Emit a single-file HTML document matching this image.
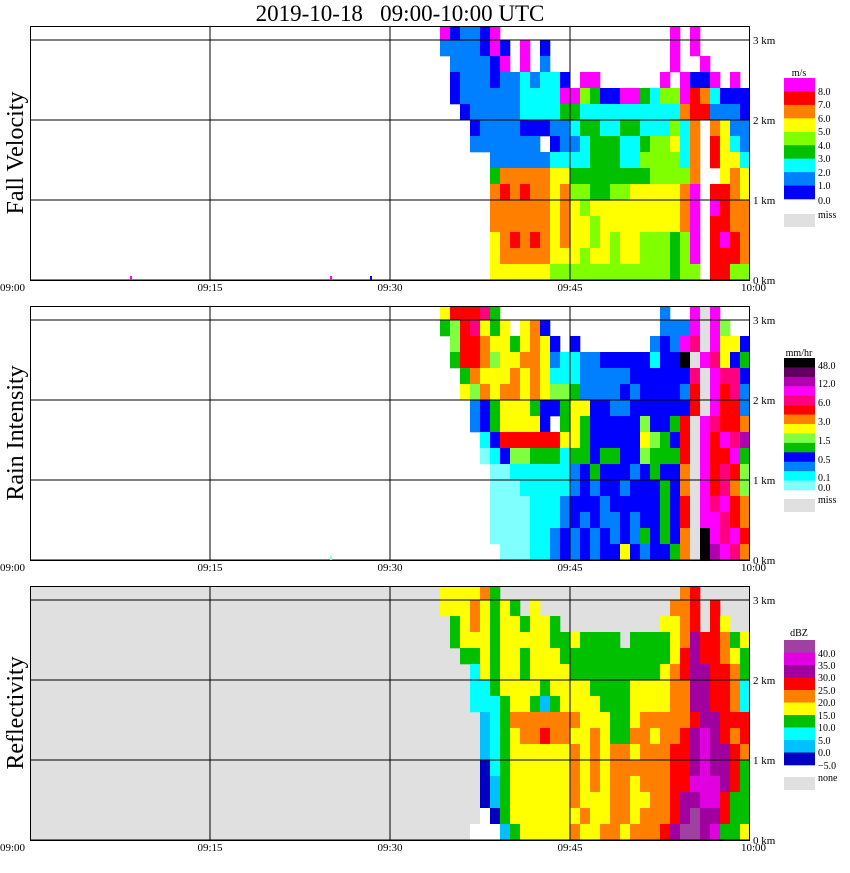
<!DOCTYPE html>
<html><head><meta charset="utf-8"><style>
body{margin:0;background:#fff;width:850px;height:868px;overflow:hidden;font-family:"Liberation Serif",serif}
svg text{font-family:"Liberation Serif",serif}
</style></head><body>
<svg id="chart" width="850" height="868" xmlns="http://www.w3.org/2000/svg">
<text x="400" y="21" font-size="23" text-anchor="middle" style="white-space:pre" xml:space="preserve">2019-10-18   09:00-10:00 UTC</text>
</svg>
<script>
// Data: each row string = height bin (top -> bottom, 0.2 km bins), each char = class for a 10/12-minute time bin starting at 09:34:10
const heightBinsKm = [3.0,2.8,2.6,2.4,2.2,2.0,1.8,1.6,1.4,1.2,1.0,0.8,0.6,0.4,0.2,0.0];
const colStartMin = 34.1667;
const colStepMin = 10/12;
const fvRows = [
"9122190000000000000000090900000",
"2222191090100000000000090900000",
"0222219090200000000000090090000",
"0122212232331099000000909119090",
"0122222233339954119943559873111",
"0012222233334433333333337882221",
"0001222211122344334433353707622",
"0002222222012234443345563708632",
"0000022222233334443355553708663",
"0000047777766444444445555700676",
"0000078787767554455666667908876",
"0000077777767656666666667909877",
"0000077777767665666666667908877",
"0000067878767665656655545908987",
"0000067777766656656655545908887",
"0000066666655555555555545508855"];
const riRows = [
"giiije0000000000000000c00kxk000",
"efijgeg0ghd00000000000ccckxkf00",
"0fiihggeghgd0d0000000cdckjxkggd",
"0eiihfgghhgcbbccdddddbddnxkjgde",
"00ehggghghgbbbcccccddddddjxkjjd",
"00gfhghhghgffeccccdcddddcixkijc",
"000cdegggeddeggddccddddddixkiic",
"000cdeggggd0egedddddfddeixkjiih",
"0000bdiiiiiiggedddddgfedixkikjl",
"0000abdffeeebeedeeddfeeeixkiike",
"00000aabbbbbbcdedddcdeddhxkijif",
"00000aaabbbbbcdcddcdddedhxkijhf",
"00000aaaabbbcdddcdddddedixkjkih",
"00000aaaabbbcdcdccdcddedixkkjih",
"00000aaaabbcdcdcdcdcededhxnkjki",
"000000aaabbcdcdcddgdcddehxnlkjh"];
const dbzRows = [
"eeeefd000000000000000000fg00000",
"eeefeded0e0000000000000ffg0g000",
"0defedeedeed0000000000eefg0ge00",
"0deeedeeeeeddedddd0ddddefhggfde",
"00ddedeedeeedddddddddddeghggfed",
"000cedeedeeeedddddddddefghhggfd",
"000ccdeeeedeeeeddddeeeeffhhggfc",
"000cccdeedbdeeeedddeeeeffhhggfc",
"0000bcdfffffffeeeddefffffghhgggg",
"0000bcdeffgffeefeddffeffghihgfg",
"0000bcdeeeeeefefeffefffgghihhgf",
"0000acdeeeeeefefeffffffgghihhgd",
"0000abdeeeeeefefeffefffggiiihgd",
"0000abdeeeeeefeeeffeeffghhiigdd",
"0000Wadeeeeeeefeeffefffghjhhgdd",
"000WWWbdeeeeefeeffefffghjjhidde"];
const xTickLabels = ["09:00","09:15","09:30","09:45","10:00"];
const xTickMin = [0,15,30,45,60];
const yTickLabels = ["0 km","1 km","2 km","3 km"];
const yTickKm = [0,1,2,3];
const fvLegendLabels = ["8.0","7.0","6.0","5.0","4.0","3.0","2.0","1.0","0.0"];
const riLegendLabels = ["48.0","12.0","6.0","3.0","1.5","0.5","0.1","0.0"];
const dbzLegendLabels = ["40.0","35.0","30.0","25.0","20.0","15.0","10.0","5.0","0.0","\u22125.0"];

const fvColors={"1":"#0000ff","2":"#0080ff","3":"#00ffff","4":"#00c000","5":"#80ff00","6":"#ffff00","7":"#ff8000","8":"#ff0000","9":"#ff00ff"};
const riColors={a:"#80ffff",b:"#00ffff",c:"#0080ff",d:"#0000ff",e:"#00c000",f:"#80ff40",g:"#ffff00",h:"#ff8000",i:"#ff0000",j:"#ff0080",k:"#ff00ff",l:"#b000b0",m:"#600060",n:"#000000",x:"#e0e0e0"};
const dbzColors={a:"#0000c0",b:"#00c0ff",c:"#00ffff",d:"#00c000",e:"#ffff00",f:"#ff8000",g:"#ff0000",h:"#a000a0",i:"#e000e0",j:"#a040a0",W:"#ffffff"};

const NS="http://www.w3.org/2000/svg";
const svg=document.getElementById('chart');
function mk(tag,attrs,parent){const e=document.createElementNS(NS,tag);for(const k in attrs)e.setAttribute(k,attrs[k]);(parent||svg).appendChild(e);return e;}
const PL=30,PR=750;
function xScale(m){return PL+m*(PR-PL)/60;}
function yScale(km,base){return base-km*80;}

const panels=[
 {rows:fvRows,colors:fvColors,base:280,top:26,name:"fall-velocity",title:"Fall Velocity",bg:"#ffffff"},
 {rows:riRows,colors:riColors,base:560,top:306,name:"rain-intensity",title:"Rain Intensity",bg:"#ffffff"},
 {rows:dbzRows,colors:dbzColors,base:840,top:586,name:"reflectivity",title:"Reflectivity",bg:"#e0e0e0"}];

panels.forEach(p=>{
  const g=mk('g',{});
  
  
  const cid='clip-'+p.name;
  const cp=mk('clipPath',{id:cid},g);
  mk('rect',{x:PL,y:p.top,width:PR-PL,height:p.base-p.top},cp);
  const bg=mk('rect',{x:PL,y:p.top,width:PR-PL,height:p.base-p.top,fill:p.bg},g);
  
  
  const cells=mk('g',{'clip-path':'url(#'+cid+')'},g);
  
  
  p.rows.forEach((row,ri)=>{
    const km=heightBinsKm[ri];
    for(let c=0;c<row.length;c++){
      const col=p.colors[row[c]];
      if(!col)continue;
      const x0=xScale(colStartMin+c*colStepMin),x1=xScale(colStartMin+(c+1)*colStepMin);
      const y0=yScale(km+0.2,p.base),y1=yScale(km,p.base);
      const r=mk('rect',{x:x0,y:y0,width:x1-x0+0.3,height:y1-y0+0.3,fill:col},cells);
      
      
    }
  });
  xTickMin.slice(1,4).forEach(m=>{const l=mk('line',{x1:xScale(m),x2:xScale(m),y1:p.top,y2:p.base,stroke:'#000','stroke-width':1},g);
    
    });
  yTickKm.forEach((km,i)=>{const y=yScale(km,p.base);
    const l=mk('line',{x1:PL,x2:PR,y1:y,y2:y,stroke:'#000','stroke-width':1},g);
    
    
    const t=mk('text',{x:753,y:y+4,'font-size':11},g);t.textContent=yTickLabels[i];
    
    });
  const b=mk('rect',{x:PL+0.5,y:p.top+0.5,width:PR-PL-1,height:p.base-p.top,fill:'none',stroke:'#000','stroke-width':1},g);
  
  
  xTickMin.forEach((m,i)=>{
    let anchor='middle',x=xScale(m);
    if(i===0){anchor='start';x=0;}
    if(i===4){anchor='end';x=766;}
    const t=mk('text',{x:x,y:p.base+11,'font-size':11,'text-anchor':anchor},g);t.textContent=xTickLabels[i];
    
    });
  const yt=mk('text',{x:0,y:0,'font-size':24,'text-anchor':'middle',transform:'translate(23,'+((p.top+p.base)/2)+') rotate(-90)'},g);
  yt.textContent=p.title;
  
  
});
[[130,276,'#ff00ff'],[330,276,'#ff00ff'],[370,276,'#0000ff'],[330,556,'#80ffff']].forEach(s=>{
  const r=mk('rect',{x:s[0],y:s[1],width:2,height:4,fill:s[2]});
  
  });

function legend(name,unit,unitY,colors,y0,y1,labels,labelYs,missY,missText){
  const g=mk('g',{});
  
  
  const u=mk('text',{x:799,y:unitY,'font-size':10,'text-anchor':'middle'},g);u.textContent=unit;
  
  
  const h=(y1-y0)/colors.length;
  colors.forEach((c,i)=>{const r=mk('rect',{x:784,y:y0+i*h,width:31,height:h+0.3,fill:c},g);
    
    });
  labels.forEach((l,i)=>{const t=mk('text',{x:818,y:labelYs[i]+4,'font-size':10},g);t.textContent=l;
    
    });
  const m=mk('rect',{x:784,y:missY,width:31,height:13,fill:'#e0e0e0'},g);
  
  
  const mt=mk('text',{x:818,y:missY+4,'font-size':10},g);mt.textContent=missText;
  
  
}
legend('fall-velocity','m/s',76,["#ff00ff","#ff0000","#ff8000","#ffff00","#80ff00","#00c000","#00ffff","#0080ff","#0000ff"],78,199,
  fvLegendLabels,[91,104,118,131,145,158,172,185,200],214,'miss');
legend('rain-intensity','mm/hr',356,["#000000","#600060","#b000b0","#ff00ff","#ff0080","#ff0000","#ff8000","#ffff00","#80ff40","#00c000","#0000ff","#0080ff","#00ffff","#80ffff"],358,490,
  riLegendLabels,[365,383,402,421,440,459,477,487],499,'miss');
legend('reflectivity','dBZ',636,["#a040a0","#e000e0","#a000a0","#ff0000","#ff8000","#ffff00","#00c000","#00ffff","#00c0ff","#0000c0"],640,765,
  dbzLegendLabels,[653,665,677,690,702,715,727,740,752,765],777,'none');
</script>
</body></html>
